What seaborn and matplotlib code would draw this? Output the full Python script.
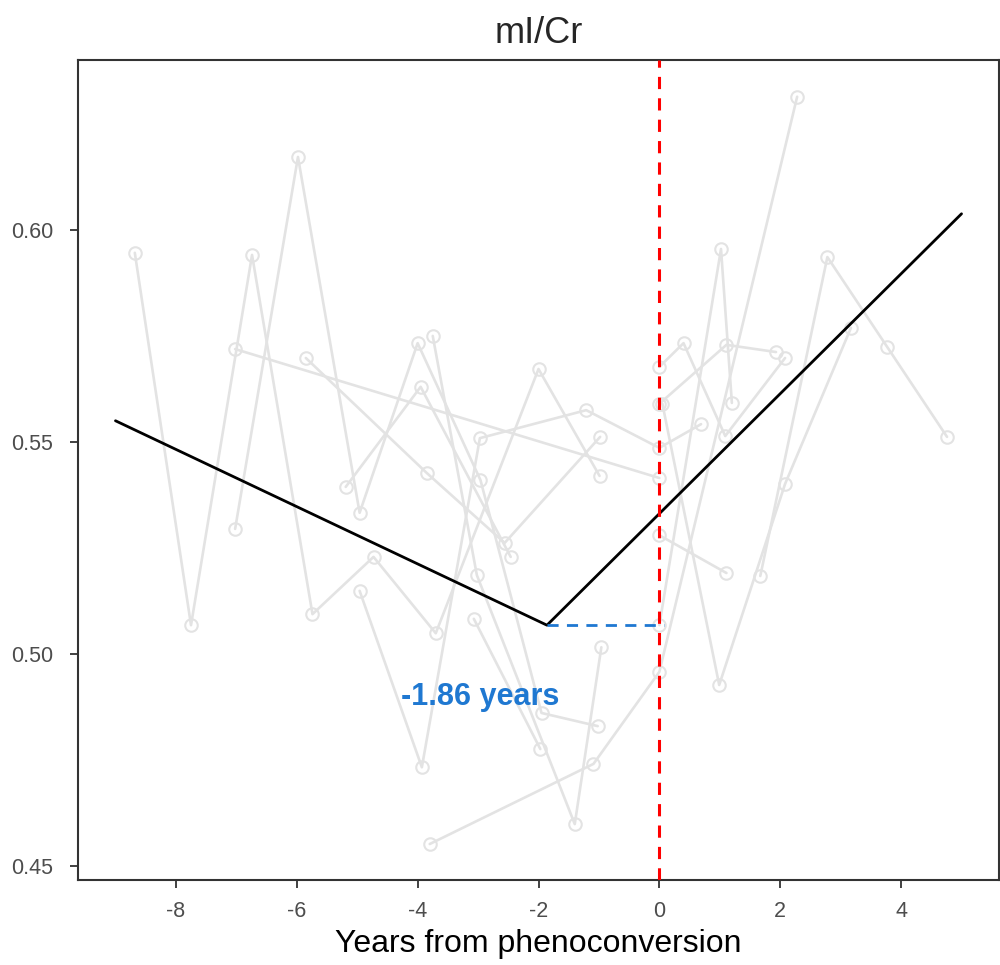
import pandas as pd
import matplotlib
matplotlib.use("Agg")
import matplotlib.pyplot as plt
import seaborn as sns

# individual trajectories (years from phenoconversion, mI/Cr)
subj_ids = ["s01", "s02", "s03", "s04", "s05", "s06", "s07", "s08",
            "s09", "s10", "s11", "s12", "s13", "s14", "s15"]
subj_years = [
    [-8.68, -7.75, -6.74, -5.74, -4.73, -3.70, -2.00, -0.99],
    [-7.02, -5.98, -4.96, -4.00, -2.96, -1.95, -1.02],
    [-7.02, 0.00],
    [-5.85, -3.85, -2.56, -0.98],
    [-4.96, -3.93, -2.97, -1.21, 0.00, 0.69],
    [-3.75, -3.02, -1.40, -0.96],
    [-3.80, -1.09, 0.00, 2.28],
    [-5.19, -3.95, -2.46],
    [-3.07, -1.97],
    [0.05, 0.99, 2.08, 3.17],
    [0.00, 1.11],
    [1.67, 2.78, 3.77, 4.76],
    [0.00, 1.02, 1.20],
    [0.00, 1.11, 1.93],
    [0.00, 0.40, 1.09, 2.08],
]
subj_ratio = [
    [0.5946, 0.5068, 0.5941, 0.5094, 0.5229, 0.5049, 0.5672, 0.5420],
    [0.5295, 0.6172, 0.5333, 0.5733, 0.5410, 0.4861, 0.4830],
    [0.5719, 0.5415],
    [0.5698, 0.5427, 0.5262, 0.5512],
    [0.5149, 0.4733, 0.5509, 0.5575, 0.5486, 0.5542],
    [0.5750, 0.5186, 0.4599, 0.5016],
    [0.4552, 0.4741, 0.4958, 0.6314],
    [0.5394, 0.5630, 0.5229],
    [0.5083, 0.4776],
    [0.5590, 0.4927, 0.5401, 0.5769],
    [0.5280, 0.5191],
    [0.5184, 0.5936, 0.5724, 0.5512],
    [0.5068, 0.5955, 0.5592],
    [0.5590, 0.5729, 0.5712],
    [0.5677, 0.5733, 0.5514, 0.5698],
]

# piecewise fit
fit_years = [-9.0, -1.86, 5.0]
fit_ratio = [0.555, 0.5068, 0.6038]
change_point = -1.86
label_text = "-1.86 years"

rows = []
for sid, xs, ys in zip(subj_ids, subj_years, subj_ratio):
    for x, y in zip(xs, ys):
        rows.append({"subject": sid, "years": x, "ratio": y})
df = pd.DataFrame(rows)
fit = pd.DataFrame({"years": fit_years, "ratio": fit_ratio})

sns.set_style("white")
plt.rcParams["font.family"] = ["Liberation Sans", "DejaVu Sans"]
plt.rcParams["axes.unicode_minus"] = False

fig = plt.figure(figsize=(10, 9.65), dpi=100)
ax = fig.add_axes([0.078, 0.088, 0.921, 0.85])

grey = "#e3e3e3"
sns.lineplot(data=df, x="years", y="ratio", units="subject", estimator=None,
             color=grey, linewidth=1.9, marker="o", markersize=9,
             markerfacecolor="none", markeredgecolor=grey, markeredgewidth=1.5,
             ax=ax, zorder=1)

sns.lineplot(data=fit, x="years", y="ratio", color="black", linewidth=2,
             ax=ax, zorder=3)

ax.axvline(0, color="#ff0000", linestyle=(0, (4, 3)), linewidth=2.2, zorder=4)
ax.plot([change_point, 0.08], [fit_ratio[1], fit_ratio[1]], color="#1f78d1",
        linestyle=(0, (4, 3)), linewidth=2, zorder=3)
ax.text(-2.97, 0.4899, label_text, color="#1f78d1", fontsize=22,
        fontweight="bold", ha="center", va="center")

ax.set_xlim(-9.62, 5.62)
ax.set_ylim(0.4467, 0.6401)
ax.set_xticks([-8, -6, -4, -2, 0, 2, 4])
ax.set_yticks([0.45, 0.50, 0.55, 0.60])
ax.set_yticklabels(["0.45", "0.50", "0.55", "0.60"])
ax.tick_params(axis="both", labelsize=15.5, labelcolor="#4d4d4d", color="#333333",
               length=6, width=1.3, direction="out", bottom=True, left=True)
ax.tick_params(axis="y", pad=12)
ax.tick_params(axis="x", pad=9)
for s in ax.spines.values():
    s.set_color("#333333")
    s.set_linewidth(1.5)

ax.set_xlabel("Years from phenoconversion", fontsize=23, color="black", labelpad=5)
ax.set_ylabel("")
ax.set_title("mI/Cr", fontsize=26, pad=12)

fig.savefig("out.png", dpi=100)
